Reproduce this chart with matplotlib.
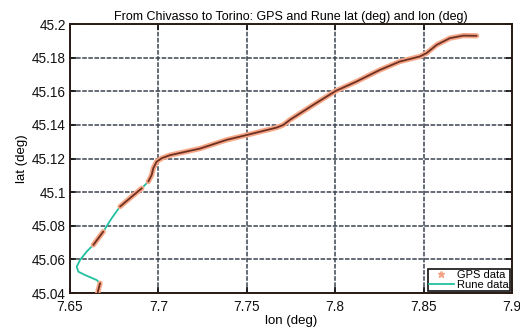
import numpy as np
import matplotlib
matplotlib.use('Agg')
import matplotlib.pyplot as plt
from matplotlib.lines import Line2D
from matplotlib.ticker import FormatStrFormatter

# path (lon, lat)
rune_lon = [7.6655, 7.6660, 7.6670, 7.6651, 7.6585, 7.6547, 7.6538, 7.6557, 7.6594,
            7.6632, 7.6688, 7.6736, 7.6783, 7.6849, 7.6906, 7.6943, 7.6962, 7.6971,
            7.6990, 7.7019, 7.7066, 7.7235, 7.7386, 7.7500, 7.7669, 7.7707, 7.7744,
            7.7876, 7.8003, 7.8121, 7.8253, 7.8366, 7.8479, 7.8517, 7.8574, 7.8649,
            7.8725, 7.8800]
rune_lat = [45.0390, 45.0418, 45.0458, 45.0477, 45.0507, 45.0527, 45.0557, 45.0596, 45.0646,
            45.0686, 45.0765, 45.0845, 45.0914, 45.0973, 45.1023, 45.1063, 45.1102, 45.1142,
            45.1181, 45.1202, 45.1220, 45.1259, 45.1311, 45.1340, 45.1384, 45.1400, 45.1430,
            45.1519, 45.1602, 45.1658, 45.1727, 45.1777, 45.1807, 45.1827, 45.1876, 45.1916,
            45.1931, 45.1930]

# GPS samples (gaps where no fix)
gps_lon = [7.6655, 7.6660, 7.6670, np.nan,
           7.6632, 7.6688, np.nan,
           7.6783, 7.6849, 7.6906, np.nan,
           7.6943, 7.6962, 7.6971, 7.6990, 7.7019, 7.7066, 7.7235, 7.7386, 7.7500,
           7.7669, 7.7707, 7.7744, 7.7876, 7.8003, 7.8121, 7.8253, 7.8366, 7.8479,
           7.8517, 7.8574, 7.8649, 7.8725, 7.8800]
gps_lat = [45.0390, 45.0418, 45.0458, np.nan,
           45.0686, 45.0765, np.nan,
           45.0914, 45.0973, 45.1023, np.nan,
           45.1063, 45.1102, 45.1142, 45.1181, 45.1202, 45.1220, 45.1259, 45.1311, 45.1340,
           45.1384, 45.1400, 45.1430, 45.1519, 45.1602, 45.1658, 45.1727, 45.1777, 45.1807,
           45.1827, 45.1876, 45.1916, 45.1931, 45.1930]

xticks = [7.65, 7.7, 7.75, 7.8, 7.85, 7.9]
yticks = [45.04, 45.06, 45.08, 45.1, 45.12, 45.14, 45.16, 45.18, 45.2]

plt.rcParams['font.family'] = ['Liberation Sans', 'DejaVu Sans']

fig = plt.figure(figsize=(5.2, 3.29), dpi=100)
ax = fig.add_axes([0.1346, 0.1094, 0.85, 0.8176])

ax.plot(rune_lon, rune_lat, color='#22c0a0', lw=1.3, zorder=3)
ax.plot(gps_lon, gps_lat, color='#f6a888', lw=3.8, solid_capstyle='round',
        solid_joinstyle='round', zorder=4)
ax.plot(gps_lon, gps_lat, color='#6e3022', lw=1.3, solid_capstyle='round',
        solid_joinstyle='round', zorder=5)

ax.set_xlim(7.65, 7.9)
ax.set_ylim(45.04, 45.2)
ax.set_xticks(xticks)
ax.set_yticks(yticks)
ax.xaxis.set_major_formatter(FormatStrFormatter('%g'))
ax.yaxis.set_major_formatter(FormatStrFormatter('%g'))
ax.tick_params(direction='in', length=4, width=1.2, labelsize=9.8, colors='#111111',
               top=True, right=True)
ax.tick_params(axis='x', pad=5)
ax.tick_params(axis='y', pad=3)
ax.grid(True, color='#3c4450', linestyle=(0, (3, 1)), linewidth=1.1)
for s in ax.spines.values():
    s.set_linewidth(1.4)
    s.set_color('#2a1a16')

ax.set_xlabel('lon (deg)', fontsize=9.5, labelpad=1)
ax.set_ylabel('lat (deg)', fontsize=9.5, labelpad=3)
ax.set_title('From Chivasso to Torino: GPS and Rune lat (deg) and lon (deg)',
             fontsize=9, pad=3)

handles = [Line2D([], [], color='#f4a484', marker='*', linestyle='none', markersize=5),
           Line2D([], [], color='#22c0a0', lw=1.3)]
leg = ax.legend(handles, ['GPS data', 'Rune data'], loc='lower right', fontsize=8,
                fancybox=False, framealpha=1, edgecolor='#111111', borderpad=0.1,
                labelspacing=0.0, handlelength=2.2, handletextpad=0.3,
                borderaxespad=0.2)
leg.get_frame().set_linewidth(1.2)

fig.savefig('out.png', dpi=100)
